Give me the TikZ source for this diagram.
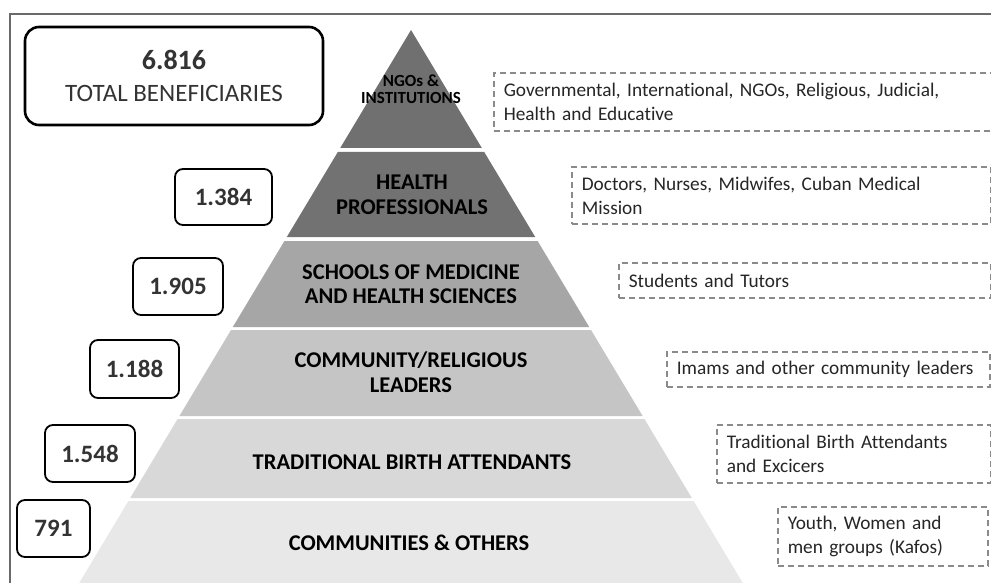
\documentclass[tikz,border=0pt]{standalone}
\usepackage{fontspec}
\setmainfont{Carlito}[Ligatures=NoCommon]
\definecolor{tA}{HTML}{707070}
\definecolor{tB}{HTML}{727272}
\definecolor{tC}{HTML}{A6A6A6}
\definecolor{tD}{HTML}{C5C5C5}
\definecolor{tE}{HTML}{D8D8D8}
\definecolor{tF}{HTML}{E8E8E8}
\definecolor{frame}{HTML}{6A6A6A}
\definecolor{dash}{HTML}{8A8A8A}
\definecolor{numtxt}{HTML}{333333}
\tikzset{
  numbox/.style={draw=black, line width=1.8pt, rounded corners=8pt, text=numtxt, font=\fontsize{25}{28}\selectfont\bfseries, inner sep=0pt},
  tiertxt/.style={font=\fontsize{22.5}{24.5}\selectfont\bfseries, align=center, text=black},
  descbox/.style={draw=dash, line width=1.6pt, dash pattern=on 6pt off 4pt, anchor=west, align=left, inner xsep=10pt, inner ysep=0pt, font=\fontsize{19.3}{24}\selectfont, text=black!85}
}
\begin{document}
\begin{tikzpicture}[x=1pt,y=-1pt]
\useasboundingbox (0,0) rectangle (991,583);
\clip (0,0) rectangle (991,583);
\fill[white] (0,0) rectangle (991,583);
% frame
\draw[frame, line width=1.3pt] (10,600) -- (10,14) -- (1010,14);
% pyramid tiers
\fill[tA] (411,30) -- (481.8,148) -- (340.2,148) -- cycle;
\fill[tB] (337.8,152) -- (484.2,152) -- (535.2,237) -- (286.8,237) -- cycle;
\fill[tC] (284.4,241) -- (537.6,241) -- (589.2,327) -- (232.8,327) -- cycle;
\fill[tD] (231,330) -- (591,330) -- (642.6,416) -- (179.4,416) -- cycle;
\fill[tE] (177.6,419) -- (644.4,419) -- (691.8,498) -- (130.2,498) -- cycle;
\fill[tF] (128.4,501) -- (693.6,501) -- (747,590) -- (75,590) -- cycle;
% tier labels
\node[tiertxt, font=\fontsize{17}{17}\selectfont\bfseries] (ngo) at (411,89) {NGOs \&\\INSTITUTIONS};
\node[tiertxt] (hp) at (412,195) {HEALTH\\PROFESSIONALS};
\node[tiertxt] (sm) at (411,284) {SCHOOLS OF MEDICINE\\AND HEALTH SCIENCES};
\node[tiertxt] (cr) at (411,372) {COMMUNITY/RELIGIOUS\\LEADERS};
\node[tiertxt] (tba) at (412,462) {TRADITIONAL BIRTH ATTENDANTS};
\node[tiertxt] (co) at (409,543) {COMMUNITIES \& OTHERS};
% number boxes
\node[draw=black, line width=2.6pt, rounded corners=14pt, minimum width=298pt, minimum height=98pt, align=center, inner sep=0pt, text=numtxt, font=\fontsize{25}{32}\selectfont] (total) at (174,76)
  {{\fontsize{28}{32}\selectfont\bfseries 6.816}\\TOTAL BENEFICIARIES};
\node[numbox, minimum width=97pt, minimum height=56pt] (n1) at (223.5,197) {1.384};
\node[numbox, minimum width=90pt, minimum height=57pt] (n2) at (178,286.5) {1.905};
\node[numbox, minimum width=89pt, minimum height=58pt] (n3) at (134.5,369) {1.188};
\node[numbox, minimum width=90pt, minimum height=57pt] (n4) at (90,453.5) {1.548};
\node[numbox, minimum width=73pt, minimum height=57pt] (n5) at (53.5,528.5) {791};
% description boxes
\node[descbox, text width=482pt, minimum height=58pt] (d1) at (493,102) {Governmental, International, NGOs, Religious, Judicial,\\Health and Educative};
\node[descbox, text width=399pt, minimum height=57pt] (d2) at (571,195.5) {Doctors, Nurses, Midwifes, Cuban Medical\\Mission};
\node[descbox, text width=352pt, minimum height=35pt] (d3) at (618,280.5) {Students and Tutors};
\node[descbox, text width=303pt, minimum height=35pt] (d4) at (666,369.5) {Imams and other community leaders};
\node[descbox, text width=254pt, minimum height=58pt] (d5) at (716,454) {Traditional Birth Attendants\\and Excicers};
\node[descbox, text width=190pt, minimum height=59pt] (d6) at (777,536.5) {Youth, Women and\\men groups (Kafos)};
\end{tikzpicture}
\end{document}
